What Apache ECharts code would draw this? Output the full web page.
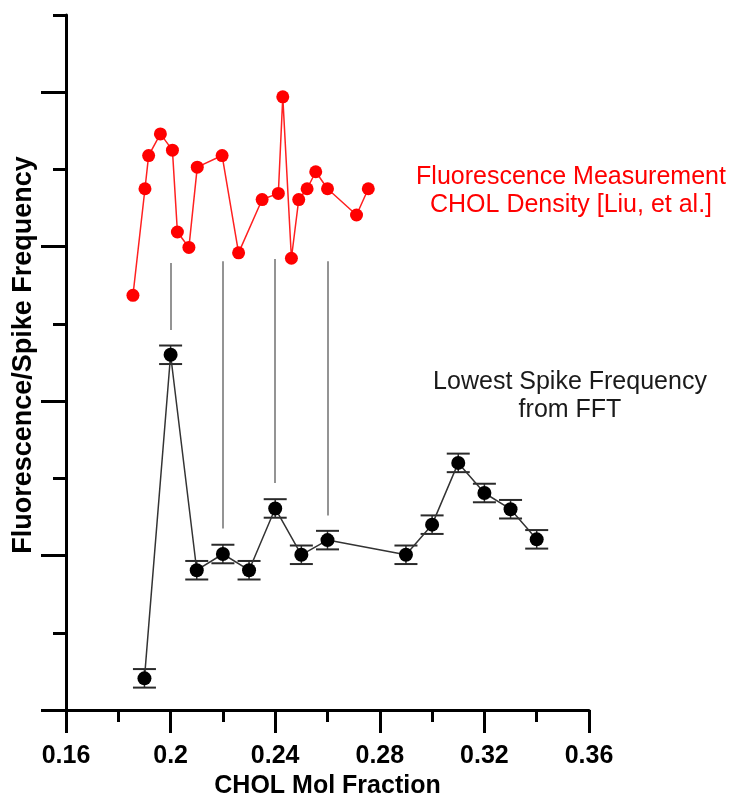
<!DOCTYPE html>
<html>
<head>
<meta charset="utf-8">
<title>CHOL Mol Fraction</title>
<script src="https://cdn.jsdelivr.net/npm/echarts@6/dist/echarts.min.js"></script>
<style>
  html, body { margin: 0; padding: 0; background: #ffffff; }
  #chart { width: 734px; height: 796px; }
</style>
</head>
<body>
<div id="chart"></div>
<script>
// Fluorescence measurement of CHOL density (red)
const fluorX = [0.1856, 0.1902, 0.1916, 0.1961, 0.2007, 0.2026, 0.2070, 0.2102, 0.2197, 0.2260,
                0.2350, 0.2412, 0.2429, 0.2462, 0.2490, 0.2522, 0.2555, 0.2600, 0.2711, 0.2756];
const fluorY = [5.37, 6.75, 7.18, 7.46, 7.25, 6.19, 5.99, 7.03, 7.18, 5.92,
                6.61, 6.69, 7.94, 5.85, 6.61, 6.75, 6.97, 6.75, 6.41, 6.75];

// Lowest spike frequency from FFT (black) with its uncertainty
const spikeX   = [0.19, 0.20, 0.21, 0.22, 0.23, 0.24, 0.25, 0.26, 0.29, 0.30, 0.31, 0.32, 0.33, 0.34];
const spikeY   = [0.41, 4.60, 1.81, 2.02, 1.81, 2.61, 2.01, 2.20, 2.01, 2.40, 3.20, 2.81, 2.60, 2.21];
const spikeErr = [0.12, 0.12, 0.12, 0.12, 0.12, 0.12, 0.12, 0.12, 0.12, 0.12, 0.12, 0.12, 0.12, 0.12];

// Vertical guides linking fluorescence dips to spike-frequency peaks
const guideX      = [0.20, 0.22, 0.24, 0.26];
const guideTop    = [5.79, 5.81, 5.84, 5.81];
const guideBottom = [4.92, 2.35, 2.94, 2.52];

// Axis ranges and ticks
const xMin = 0.16, xMax = 0.36, xStep = 0.04;
const yMin = 0, yMax = 9;
const yLongTicks  = [0, 2, 4, 6, 8];
const yShortTicks = [1, 3, 5, 7, 9];

const FONT = '"Liberation Sans", Arial, Helvetica, sans-serif';

const chart = echarts.init(document.getElementById('chart'), null, { renderer: 'canvas' });

const option = {
  animation: false,
  backgroundColor: '#ffffff',
  grid: { left: 66, right: 145, top: 15, bottom: 86, containLabel: false, outerBoundsMode: 'none' },
  xAxis: {
    type: 'value',
    min: xMin, max: xMax, interval: xStep,
    axisLine: { show: true, onZero: false, lineStyle: { color: '#000', width: 3 } },
    axisTick: { show: true, length: 23, lineStyle: { color: '#000', width: 3 } },
    minorTick: { show: true, splitNumber: 2, length: 12, lineStyle: { color: '#000', width: 3 } },
    splitLine: { show: false },
    minorSplitLine: { show: false },
    axisLabel: {
      show: true, margin: 34, color: '#000',
      fontFamily: FONT, fontWeight: 'bold', fontSize: 25
    },
    name: 'CHOL Mol Fraction',
    nameLocation: 'middle',
    nameGap: 63,
    nameTextStyle: { color: '#000', fontFamily: FONT, fontWeight: 'bold', fontSize: 25 }
  },
  yAxis: [
    {
      type: 'value',
      min: yMin, max: yMax, interval: 1,
      axisLine: { show: true, onZero: false, lineStyle: { color: '#000', width: 3 } },
      axisTick: { show: true, customValues: yShortTicks, length: 13, lineStyle: { color: '#000', width: 3 } },
      axisLabel: { show: false },
      splitLine: { show: false },
      name: 'Fluorescence/Spike Frequency',
      nameLocation: 'middle',
      nameGap: 29,
      nameTextStyle: {
        color: '#000', fontFamily: FONT, fontWeight: 'bold', fontSize: 27,
        padding: [0, 0, 0, 15]
      }
    },
    {
      type: 'value',
      position: 'left',
      min: yMin, max: yMax, interval: 1,
      axisLine: { show: false },
      axisTick: { show: true, customValues: yLongTicks, length: 25, lineStyle: { color: '#000', width: 3 } },
      axisLabel: { show: false },
      splitLine: { show: false }
    }
  ],
  graphic: [
    {
      type: 'text',
      x: 571, y: 191,
      silent: true,
      style: {
        text: 'Fluorescence Measurement\nCHOL Density [Liu, et al.]',
        fill: '#ff0000',
        font: '25px ' + FONT,
        align: 'center',
        verticalAlign: 'middle',
        lineHeight: 28.5
      }
    },
    {
      type: 'text',
      x: 570, y: 396,
      silent: true,
      style: {
        text: 'Lowest Spike Frequency\nfrom FFT',
        fill: '#1a1a1a',
        font: '25px ' + FONT,
        align: 'center',
        verticalAlign: 'middle',
        lineHeight: 28.5
      }
    }
  ],
  series: [
    {
      name: 'Fluorescence',
      type: 'line',
      data: fluorX.map((x, i) => [x, fluorY[i]]),
      symbol: 'circle',
      symbolSize: 13,
      lineStyle: { color: '#ff2020', width: 1.5 },
      itemStyle: { color: '#ff0000' },
      z: 3
    },
    {
      name: 'Spike error',
      type: 'custom',
      data: spikeX.map((x, i) => [x, spikeY[i] - spikeErr[i], spikeY[i] + spikeErr[i]]),
      encode: { x: 0, y: [1, 2] },
      z: 2,
      renderItem: function (params, api) {
        const lo = api.coord([api.value(0), api.value(1)]);
        const hi = api.coord([api.value(0), api.value(2)]);
        const half = 11.5;
        const stroke = { stroke: '#2a2a2a', lineWidth: 2 };
        return {
          type: 'group',
          children: [
            { type: 'line', shape: { x1: hi[0], y1: hi[1], x2: lo[0], y2: lo[1] }, style: { stroke: '#2a2a2a', lineWidth: 1.5 } },
            { type: 'line', shape: { x1: hi[0] - half, y1: hi[1], x2: hi[0] + half, y2: hi[1] }, style: stroke },
            { type: 'line', shape: { x1: lo[0] - half, y1: lo[1], x2: lo[0] + half, y2: lo[1] }, style: stroke }
          ]
        };
      }
    },
    {
      name: 'Lowest Spike Frequency',
      type: 'line',
      data: spikeX.map((x, i) => [x, spikeY[i]]),
      symbol: 'circle',
      symbolSize: 14,
      lineStyle: { color: '#333333', width: 1.5 },
      itemStyle: { color: '#000000' },
      z: 3,
      markLine: {
        silent: true,
        symbol: ['none', 'none'],
        label: { show: false },
        lineStyle: { color: '#707070', width: 1.5, type: 'solid' },
        data: guideX.map((x, i) => [
          { coord: [x, guideTop[i]] },
          { coord: [x, guideBottom[i]] }
        ])
      }
    }
  ]
};

chart.setOption(option);
</script>
</body>
</html>
